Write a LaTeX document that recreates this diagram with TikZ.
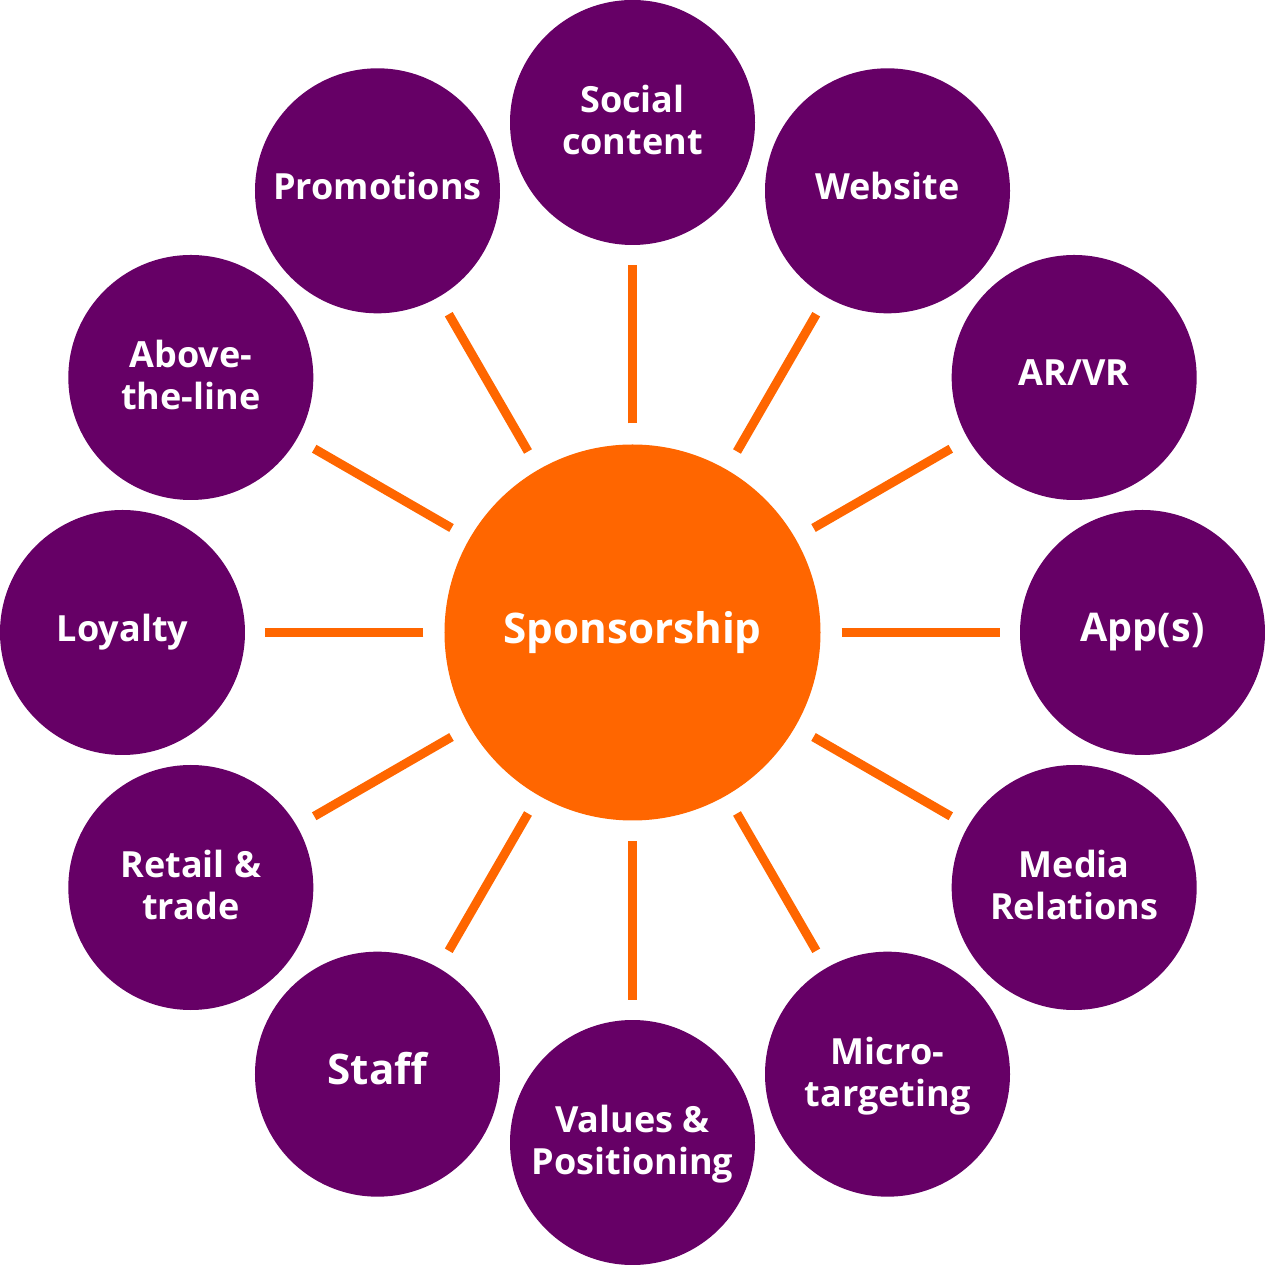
\documentclass[tikz,border=0pt]{standalone}
\usepackage{fontspec}
\setmainfont{Open Sans}
\definecolor{plum}{HTML}{660066}
\definecolor{tangerine}{HTML}{FF6600}

\begin{document}
\begin{tikzpicture}[
	topic/.style={circle, fill=plum, minimum size=4.9cm, inner sep=0pt, outer sep=0pt,
		text=white, align=center, text depth=0.1cm, font=\bfseries\fontsize{20.5}{24.2}\selectfont},
	oneline/.style={text depth=0.2cm},
	hub/.style={circle, fill=tangerine, minimum size=7.52cm, inner sep=0pt, outer sep=0pt,
		text=white, align=center, font=\bfseries\fontsize{24}{29}\selectfont},
	spoke/.style={draw=tangerine, line width=0.18cm, shorten <=0.42cm, shorten >=0.4cm},
]
	\useasboundingbox (-12.65,-12.65) rectangle (12.65,12.65);

	\node[hub] (hub) at (0,0) {Sponsorship};

	\node[topic] (social) at (90:10.2cm) {Social\\content};
	\node[topic, oneline] (web) at (60:10.2cm) {Website};
	\node[topic, oneline] (arvr) at (30:10.2cm) {AR/VR};
	\node[topic, oneline, font=\bfseries\fontsize{22.5}{27}\selectfont] (apps) at (0:10.2cm) {App(s)};
	\node[topic] (media) at (-30:10.2cm) {Media\\Relations};
	\node[topic] (micro) at (-60:10.2cm) {Micro-\\targeting};
	\node[topic] (values) at (-90:10.2cm) {Values \&\\Positioning};
	\node[topic, text depth=0.24cm, font=\bfseries\fontsize{24}{29}\selectfont] (staff) at (-120:10.2cm) {Staff};
	\node[topic] (retail) at (-150:10.2cm) {Retail \&\\trade};
	\node[topic, oneline] (loyalty) at (180:10.2cm) {Loyalty};
	\node[topic] (atl) at (150:10.2cm) {Above-\\the-line};
	\node[topic, oneline] (promo) at (120:10.2cm) {Promotions};

	% spokes from the hub
	\draw[spoke] (hub) -- (social);
	\draw[spoke] (hub) -- (web);
	\draw[spoke] (hub) -- (arvr);
	\draw[spoke] (hub) -- (apps);
	\draw[spoke] (hub) -- (media);
	\draw[spoke] (hub) -- (micro);
	\draw[spoke] (hub) -- (values);
	\draw[spoke] (hub) -- (staff);
	\draw[spoke] (hub) -- (retail);
	\draw[spoke] (hub) -- (loyalty);
	\draw[spoke] (hub) -- (atl);
	\draw[spoke] (hub) -- (promo);
\end{tikzpicture}
\end{document}
